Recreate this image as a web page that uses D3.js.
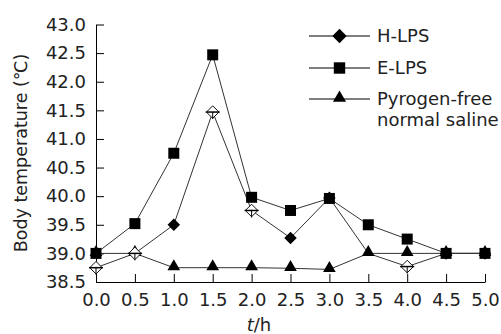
<!DOCTYPE html>
<html>
<head>
<meta charset="utf-8">
<title>Body temperature</title>
<style>
  * { margin: 0; padding: 0 }
  html, body { width: 100%; height: 100%; background: #fff; }
  svg text { font-family: "DejaVu Sans", sans-serif; fill: #222; }
</style>
</head>
<body>
<svg id="chart" width="501" height="334"></svg>
<script src="https://cdn.jsdelivr.net/npm/d3@7/dist/d3.min.js"></script>
<script>
// data
const times = [0, 0.5, 1.0, 1.5, 2.0, 2.5, 3.0, 3.5, 4.0, 4.5, 5.0];
const hLPS = [38.75, 39.0, 39.5, 41.47, 39.75, 39.27, 39.97, 39.0, 38.77, 39.0, 39.0];
const eLPS = [39.0, 39.52, 40.75, 42.47, 39.98, 39.75, 39.96, 39.5, 39.25, 39.0, 39.0];
const saline = [39.0, 39.0, 38.75, 38.75, 38.75, 38.74, 38.72, 39.0, 39.0, 39.0, 39.0];
const hHollow = [0, 1, 3, 4, 8]; // H-LPS points drawn as open diamonds
const hHidden = [7];             // H-LPS point covered by the triangle
const xTicks = [0, 0.5, 1, 1.5, 2, 2.5, 3, 3.5, 4, 4.5, 5];
const yTicks = [38.5, 39, 39.5, 40, 40.5, 41, 41.5, 42, 42.5, 43];
const legendNames = ["H-LPS", "E-LPS", "Pyrogen-free"];

const svg = d3.select("#chart");
const x = d3.scaleLinear().domain([0, 5]).range([96, 485]);
const y = d3.scaleLinear().domain([38.5, 43]).range([282, 24.5]);

// axes (ticks point inward)
const gx = svg.append("g").attr("transform", "translate(0,282)")
  .call(d3.axisBottom(x).tickValues(xTicks).tickFormat(d3.format(".1f"))
    .tickSizeInner(-8).tickSizeOuter(0).tickPadding(11));
const gy = svg.append("g").attr("transform", "translate(96,0)")
  .call(d3.axisLeft(y).tickValues(yTicks).tickFormat(d3.format(".1f"))
    .tickSizeInner(-8).tickSizeOuter(0).tickPadding(10));
[gx, gy].forEach(g => {
  g.selectAll("path.domain").attr("stroke", "#000");
  g.selectAll(".tick line").attr("stroke", "#000");
  g.selectAll(".tick text").attr("font-family", "DejaVu Sans").attr("font-size", 18).attr("fill", "#222");
});
gx.selectAll(".tick text").attr("dy", "0.71em");

svg.append("text")
  .attr("transform", "translate(27,153) rotate(-90)")
  .attr("text-anchor", "middle")
  .attr("font-size", 17.5)
  .text("Body temperature (\u2103)");

svg.append("text")
  .attr("x", 259).attr("y", 331)
  .attr("text-anchor", "middle")
  .attr("font-size", 18)
  .html('<tspan font-style="italic">t</tspan>/h');

// lines
const line = d3.line().x((d, i) => x(times[i])).y(d => y(d));
[hLPS, eLPS, saline].forEach(s => {
  svg.append("path").datum(s)
    .attr("d", line)
    .attr("fill", "none")
    .attr("stroke", "#333")
    .attr("stroke-width", 1);
});

const diamond = d3.symbol().type(d3.symbolDiamond2).size(100);
const square = d3.symbol().type(d3.symbolSquare).size(121);
const triangle = d3.symbol().type(d3.symbolTriangle).size(70);

// filled diamonds, triangles, squares, then open diamonds on top
svg.append("g").selectAll("path")
  .data(hLPS.map((v, i) => ({ v, i })).filter(d => !hHollow.includes(d.i) && !hHidden.includes(d.i)))
  .join("path")
  .attr("transform", d => `translate(${x(times[d.i])},${y(d.v)})`)
  .attr("d", diamond).attr("fill", "#000");

svg.append("g").selectAll("path")
  .data(saline)
  .join("path")
  .attr("transform", (d, i) => `translate(${x(times[i])},${y(d) - 1})`)
  .attr("d", triangle).attr("fill", "#000");

svg.append("g").selectAll("path")
  .data(eLPS)
  .join("path")
  .attr("transform", (d, i) => `translate(${x(times[i])},${y(d)})`)
  .attr("d", square).attr("fill", "#000");

const hollow = svg.append("g").selectAll("g")
  .data(hHollow.map(i => ({ v: hLPS[i], i })))
  .join("g")
  .attr("transform", d => `translate(${x(times[d.i])},${y(d.v)})`);
hollow.append("path").attr("d", diamond).attr("fill", "#fff").attr("stroke", "#111").attr("stroke-width", 1);
hollow.append("line").attr("x1", -7).attr("x2", 7).attr("stroke", "#000").attr("stroke-width", 1.5);
hollow.append("line").attr("y1", 0).attr("y2", 7).attr("stroke", "#000").attr("stroke-width", 1);

// legend
const legendY = [36, 68, 99];
const legendSym = [
  d3.symbol().type(d3.symbolDiamond2).size(130),
  d3.symbol().type(d3.symbolSquare).size(130),
  d3.symbol().type(d3.symbolTriangle).size(75)
];
const lg = svg.append("g").selectAll("g")
  .data(legendNames)
  .join("g")
  .attr("transform", (d, i) => `translate(0,${legendY[i]})`);
lg.append("line").attr("x1", 309).attr("x2", 370).attr("stroke", "#000");
lg.append("path")
  .attr("transform", (d, i) => `translate(339.5,${i === 2 ? -1 : 0})`)
  .attr("d", (d, i) => legendSym[i]()).attr("fill", "#000");
lg.append("text").attr("x", 377).attr("dy", "0.36em").attr("font-size", 18).text(d => d);
svg.append("text").attr("x", 377).attr("y", 120).attr("dy", "0.36em").attr("font-size", 18).text("normal saline");
</script>
</body>
</html>
